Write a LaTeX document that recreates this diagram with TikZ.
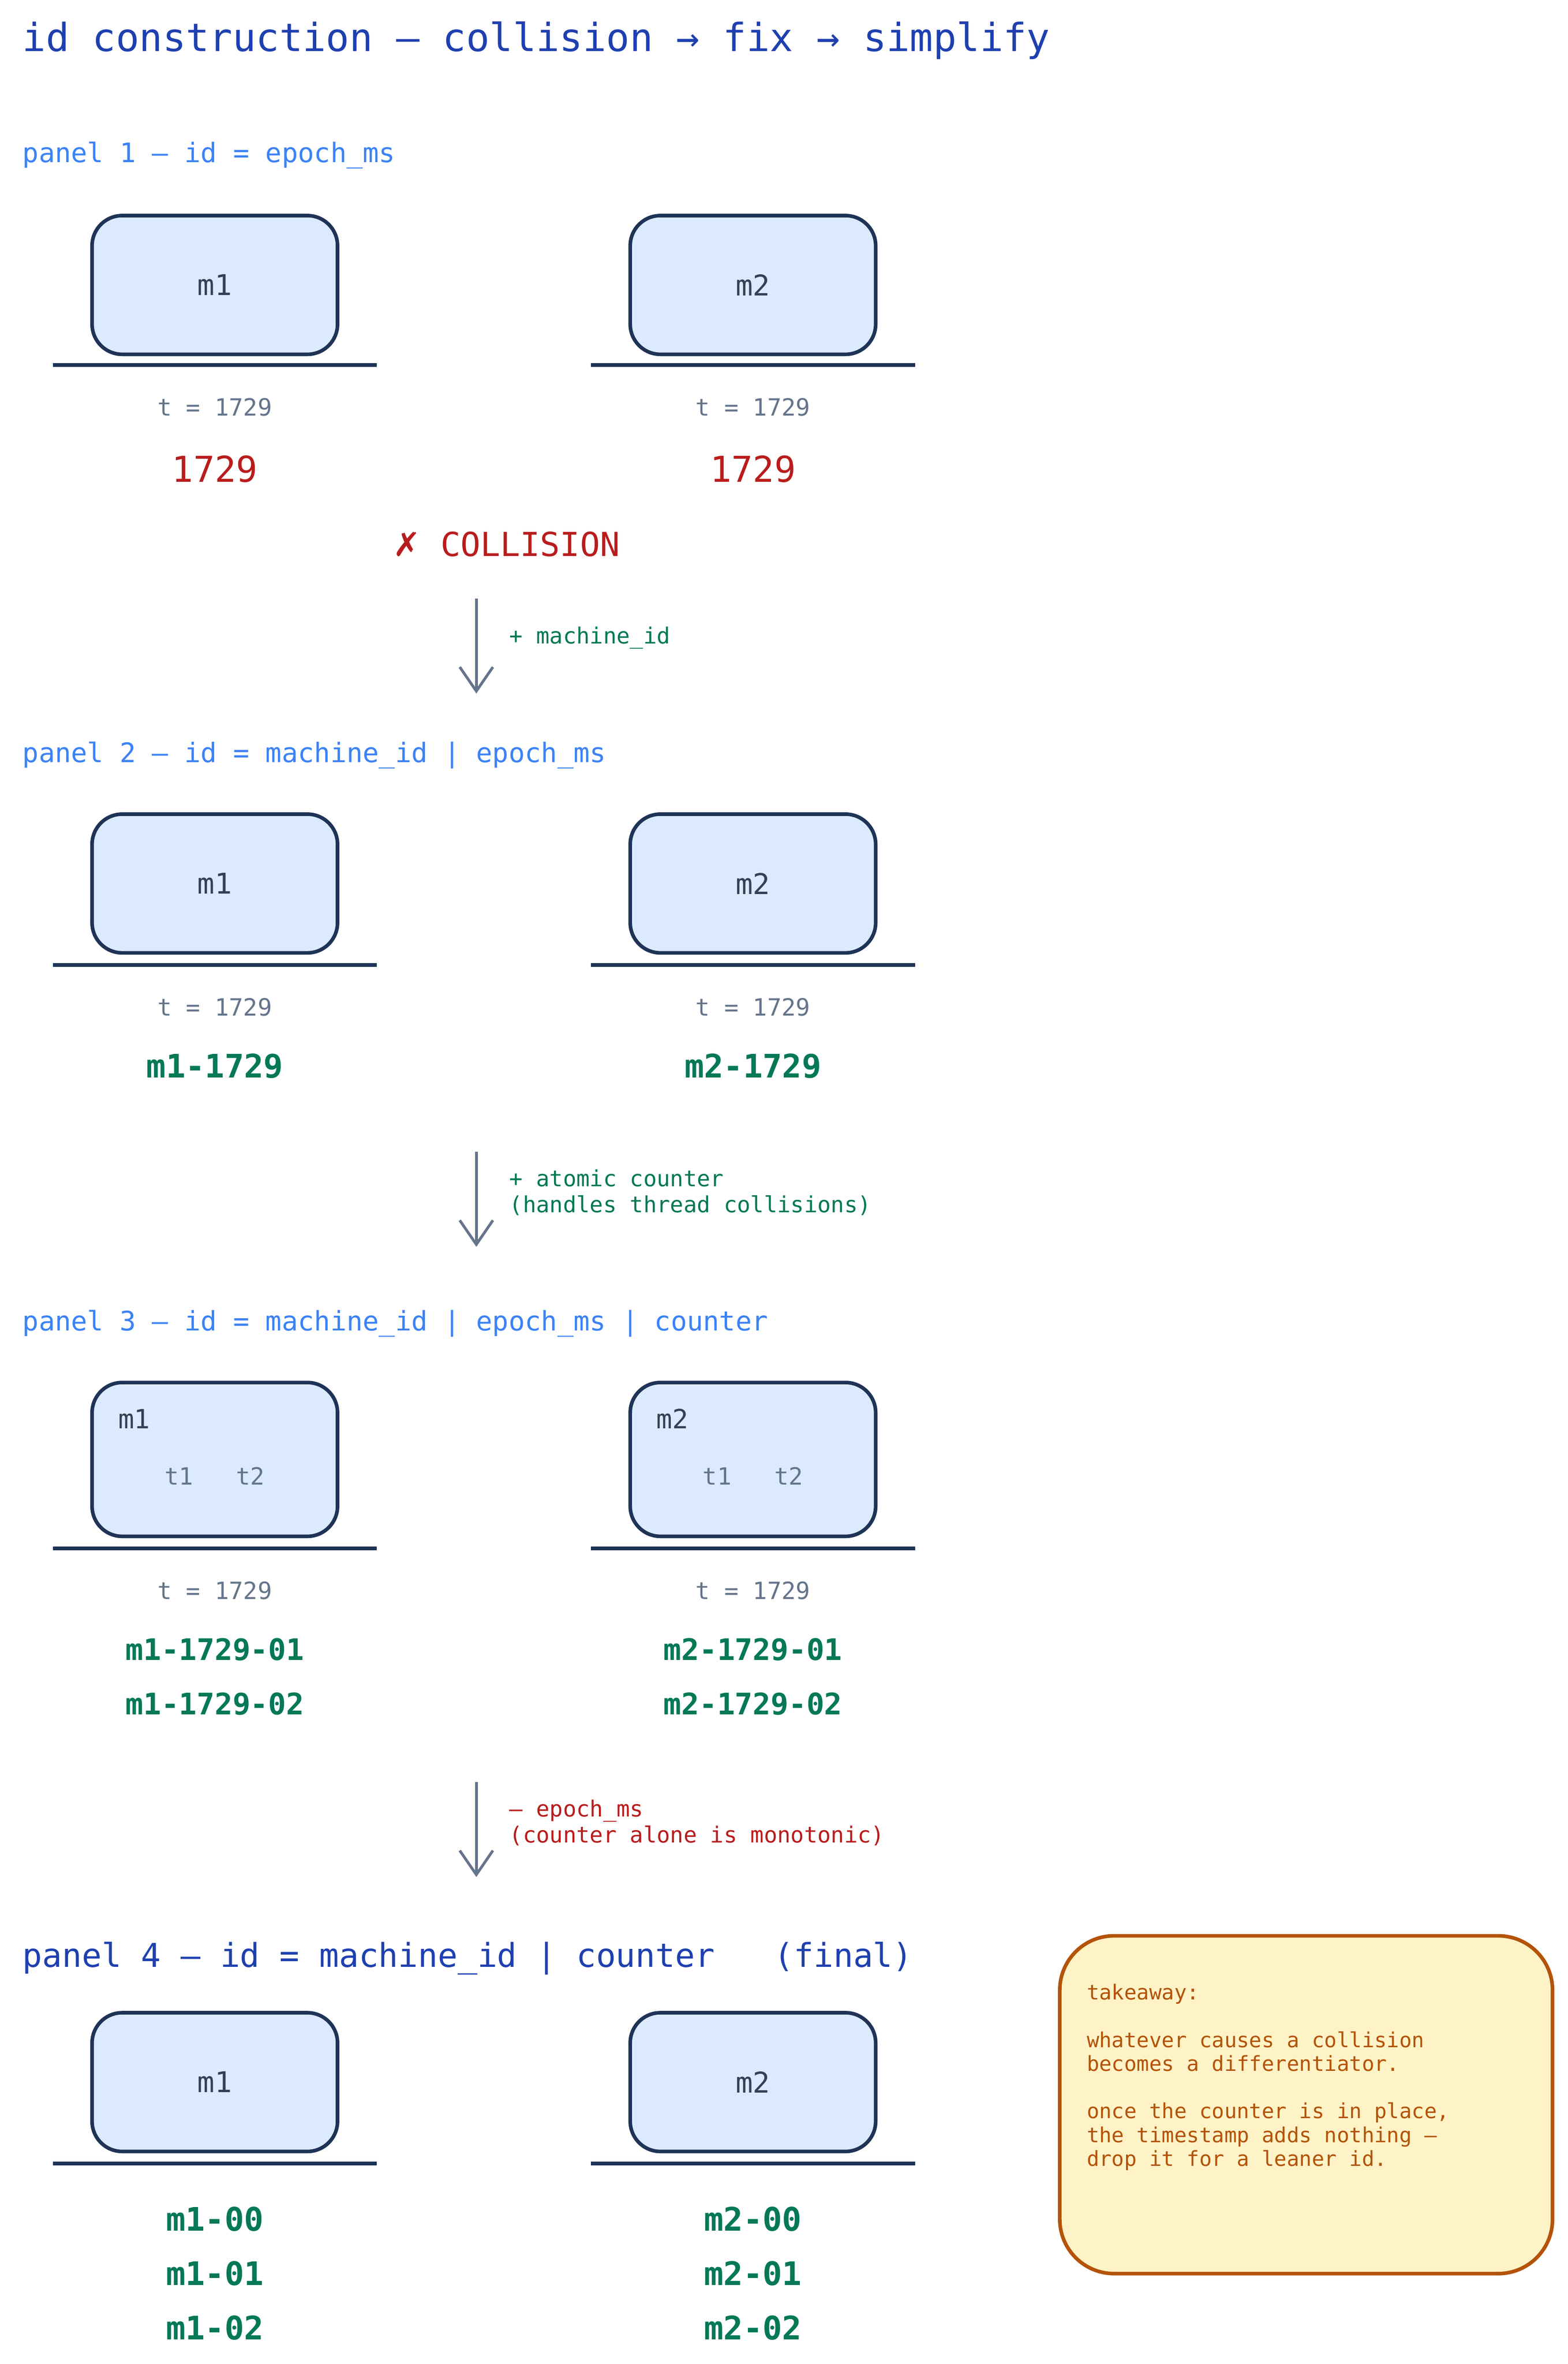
\documentclass[tikz,border=0pt]{standalone}
\usepackage{fontspec}
\setmonofont{DejaVu Sans Mono}
\newfontfamily\symfont{DejaVu Sans}
\usetikzlibrary{arrows.meta,positioning}
\definecolor{titleblue}{HTML}{1E40AF}
\definecolor{panelblue}{HTML}{3B82F6}
\definecolor{boxfill}{HTML}{DBEAFE}
\definecolor{boxline}{HTML}{1E3356}
\definecolor{boxtext}{HTML}{334155}
\definecolor{slate}{HTML}{64748B}
\definecolor{idred}{HTML}{B91C1C}
\definecolor{idgreen}{HTML}{047857}
\definecolor{notefill}{HTML}{FEF3C7}
\definecolor{notetext}{HTML}{B45309}
\tikzset{
  machine/.style={draw=boxline, fill=boxfill, line width=0.6mm, rounded corners=0.5cm,
    minimum width=4.07cm, minimum height=2.3cm, font=\ttfamily\fontsize{13.5}{16}\selectfont, text=boxtext},
  ground/.style={draw=boxline, line width=0.6mm},
  panellabel/.style={anchor=west, text=panelblue, font=\ttfamily\fontsize{12.7}{15}\selectfont},
  tlabel/.style={text=slate, font=\ttfamily\fontsize{11.2}{13}\selectfont},
  idlabel/.style={text=idgreen, font=\ttfamily\bfseries\fontsize{15.3}{18}\selectfont},
  steparrow/.style={draw=slate, line width=0.45mm, -{Straight Barb[length=4mm,width=5.5mm]}},
  steplabel/.style={anchor=west, align=left, font=\ttfamily\fontsize{10.5}{12.3}\selectfont},
}
\begin{document}
\begin{tikzpicture}[x=0.025cm, y=-0.025cm]
  \useasboundingbox (0,0) rectangle (1040,1568);
  % Title
  \node[anchor=west, text=titleblue, font=\ttfamily\fontsize{18.3}{22}\selectfont] (title) at (10,27)
    {id construction – collision → fix → simplify};
  % Panel 1
  \node[panellabel] (p1) at (10,103) {panel 1 – id = epoch\_ms};
  \foreach \m/\x in {1/142.5,2/499.5} {
    \node[machine] (a\m) at (\x,189) {m\m};
    \draw[ground] (\x-107.5,242) -- (\x+107.5,242);
    \node[tlabel] (at\m) at (\x,270) {t = 1729};
    \node[text=idred, font=\ttfamily\fontsize{16.8}{20}\selectfont] (aid\m) at (\x,311) {1729};
  }
  \node[text=idred, font=\ttfamily\fontsize{15.6}{18}\selectfont] (coll) at (336,361) {{\symfont ✗} COLLISION};
  \coordinate (s1a) at (316,397);
  \coordinate (s1b) at (316,460);
  \draw[steparrow] (s1a) -- (s1b);
  \node[steplabel, text=idgreen] (s1) at (333,423) {+ machine\_id};
  % Panel 2
  \node[panellabel] (p2) at (10,501) {panel 2 – id = machine\_id | epoch\_ms};
  \foreach \m/\x in {1/142.5,2/499.5} {
    \node[machine] (b\m) at (\x,586) {m\m};
    \draw[ground] (\x-107.5,640) -- (\x+107.5,640);
    \node[tlabel] (bt\m) at (\x,668) {t = 1729};
    \node[idlabel] (bid\m) at (\x,707) {m\m-1729};
  }
  \coordinate (s2a) at (316,764);
  \coordinate (s2b) at (316,827);
  \draw[steparrow] (s2a) -- (s2b);
  \node[steplabel, text=idgreen] (s2) at (333,791) {+ atomic counter\\(handles thread collisions)};
  % Panel 3
  \node[panellabel] (p3) at (10,878) {panel 3 – id = machine\_id | epoch\_ms | counter};
  \foreach \m/\x in {1/142.5,2/499.5} {
    \node[machine, minimum height=2.55cm] (c\m) at (\x,968) {};
    \node[anchor=west, text=boxtext, font=\ttfamily\fontsize{12.5}{15}\selectfont] (cm\m) at (\x-69,941) {m\m};
    \node[tlabel] (cth\m) at (\x,979) {t1\ \ \ t2};
    \draw[ground] (\x-107.5,1027) -- (\x+107.5,1027);
    \node[tlabel] (ct\m) at (\x,1055) {t = 1729};
    \node[idlabel, font=\ttfamily\bfseries\fontsize{14}{17}\selectfont] (cida\m) at (\x,1094) {m\m-1729-01};
    \node[idlabel, font=\ttfamily\bfseries\fontsize{14}{17}\selectfont] (cidb\m) at (\x,1130) {m\m-1729-02};
  }
  \coordinate (s3a) at (316,1182);
  \coordinate (s3b) at (316,1245);
  \draw[steparrow] (s3a) -- (s3b);
  \node[steplabel, text=idred] (s3) at (333,1209) {– epoch\_ms\\(counter alone is monotonic)};
  % Panel 4
  \node[anchor=west, text=titleblue, font=\ttfamily\fontsize{15.5}{18}\selectfont] (p4) at (10,1299)
    {panel 4 – id = machine\_id | counter\ \ \ (final)};
  \foreach \m/\x in {1/142.5,2/499.5} {
    \node[machine] (d\m) at (\x,1381) {m\m};
    \draw[ground] (\x-107.5,1435) -- (\x+107.5,1435);
    \foreach \k/\y in {00/1472,01/1508,02/1544}
      \node[idlabel] (did\m\k) at (\x,\y) {m\m-\k};
  }
  % Takeaway
  \node[draw=notetext, fill=notefill, line width=0.6mm, rounded corners=0.9cm,
    minimum width=8.17cm, minimum height=5.6cm] (note) at (866.5,1396) {};
  \node[anchor=north west, align=left, text=notetext, font=\ttfamily\fontsize{9.8}{11.2}\selectfont]
    (notetxt) at (716,1311) {takeaway:\\[11.2pt]whatever causes a collision\\becomes a differentiator.\\[11.2pt]once the counter is in place,\\the timestamp adds nothing –\\drop it for a leaner id.};
\end{tikzpicture}
\end{document}
